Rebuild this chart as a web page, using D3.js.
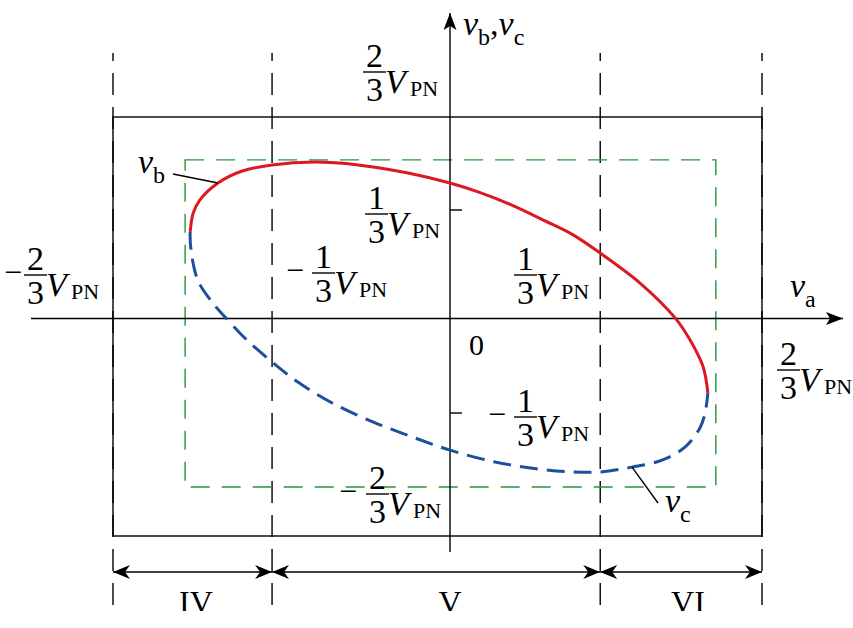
<!DOCTYPE html>
<html lang="en">
<head>
<meta charset="utf-8">
<title>va - vb,vc trajectory</title>
<script src="https://cdn.jsdelivr.net/npm/d3@7"></script>
<style>
  body { margin: 0; background: #fff; }
  svg { display: block; }
  .ln { stroke: #000; stroke-width: 1.4; fill: none; }
  .dash { stroke: #000; stroke-width: 1.4; stroke-dasharray: 22 12; stroke-dashoffset: 14; }
  .green { stroke: #24963a; stroke-width: 1.4; fill: none; stroke-dasharray: 19 12; }
  .vb { stroke: #dc1820; stroke-width: 3; fill: none; }
  .vc { stroke: #1c4f9c; stroke-width: 3; fill: none; stroke-dasharray: 18 9; }
</style>
</head>
<body>
<script>

// all values in units of V_PN
// upper half of the trajectory (vb against va), read left to right
var vaB = [-0.514, -0.508, -0.495, -0.459, -0.411, -0.352, -0.267, -0.182, -0.083, 0, 0.060,
           0.132, 0.203, 0.263, 0.321, 0.406, 0.481, 0.513, 0.541, 0.551];
var vb  = [0.266, 0.324, 0.369, 0.430, 0.473, 0.495, 0.505, 0.495, 0.466, 0.430, 0.398,
           0.351, 0.300, 0.257, 0.201, 0.109, 0.002, -0.076, -0.171, -0.263];

// lower half (vc against va)
var vaC = [-0.514, -0.513, -0.499, -0.471, -0.447, -0.400, -0.352, -0.301, -0.233, -0.148, -0.069,
           0, 0.096, 0.188, 0.261, 0.321, 0.389, 0.453, 0.502, 0.534, 0.545, 0.551];
var vc  = [0.266, 0.220, 0.118, 0.051, 0.008, -0.079, -0.153, -0.224, -0.298, -0.360, -0.401,
           -0.434, -0.466, -0.485, -0.493, -0.493, -0.480, -0.461, -0.426, -0.374, -0.333, -0.263];

var outerLimit = 2/3;
var tickVals = [1/3, -1/3];
var greenVa = [-0.524, 0.568];
var greenV = [-0.534, 0.513];
var sectorEdges = [-2/3, -0.352, 0.321, 2/3];
var sectorNames = ["IV", "V", "VI"];

var w = 853;
var h = 628;
var serif = "'Liberation Serif'";

// the drawing is not to scale, so the scales are piecewise
var x = d3.scaleLinear().domain([-2/3, 0, 2/3]).range([113, 450, 762]);
var y = d3.scaleLinear().domain([-2/3, -1/3, 0, 1/3, 2/3]).range([536, 413, 318.5, 210, 117]);

var svg = d3.select("body").append("svg")
  .attr("width", w)
  .attr("height", h);

var defs = svg.append("defs");
defs.append("clipPath").attr("id", "cut")
  .append("rect").attr("x", 0).attr("y", 0).attr("width", w).attr("height", 611);

function arrowMarker(id, len, half, notch) {
  defs.append("marker")
    .attr("id", id)
    .attr("viewBox", "0 " + (-half) + " " + len + " " + (2 * half))
    .attr("refX", len).attr("refY", 0)
    .attr("markerWidth", len).attr("markerHeight", 2 * half)
    .attr("markerUnits", "userSpaceOnUse")
    .attr("orient", "auto-start-reverse")
    .append("path")
    .attr("d", "M" + len + ",0L0," + (-half) + "L" + notch + ",0L0," + half + "Z")
    .attr("fill", "#000");
}
arrowMarker("axisHead", 17, 6.5, 4);
arrowMarker("spanHead", 17, 7, 5);

var g = svg.append("g").attr("clip-path", "url(#cut)");

function txt(parent, px, py, size) {
  return parent.append("text")
    .attr("x", px).attr("y", py)
    .attr("font-family", serif)
    .attr("font-size", size);
}

// sector boundaries
g.selectAll(".dash").data(sectorEdges).enter().append("line")
  .attr("class", "dash")
  .attr("x1", function(d){ return x(d); })
  .attr("x2", function(d){ return x(d); })
  .attr("y1", 53).attr("y2", 611);

// outer box +-2/3 VPN
g.append("rect").attr("class", "ln")
  .attr("x", x(-outerLimit)).attr("y", y(outerLimit))
  .attr("width", x(outerLimit) - x(-outerLimit))
  .attr("height", y(-outerLimit) - y(outerLimit));

// green dashed box
g.append("rect").attr("class", "green")
  .attr("x", x(greenVa[0])).attr("y", y(greenV[1]))
  .attr("width", x(greenVa[1]) - x(greenVa[0]))
  .attr("height", y(greenV[0]) - y(greenV[1]));

// axes
g.append("line").attr("class", "ln")
  .attr("x1", 31).attr("x2", 843).attr("y1", y(0)).attr("y2", y(0))
  .attr("marker-end", "url(#axisHead)");
g.append("line").attr("class", "ln")
  .attr("x1", x(0)).attr("x2", x(0)).attr("y1", 552).attr("y2", 13)
  .attr("marker-end", "url(#axisHead)");

g.selectAll(".tick").data(tickVals).enter().append("line")
  .attr("class", "ln tick")
  .attr("x1", x(0)).attr("x2", x(0) + 12)
  .attr("y1", function(d){ return y(d); })
  .attr("y2", function(d){ return y(d); });

// trajectory
var line = d3.line()
  .x(function(d){ return x(d[0]); })
  .y(function(d){ return y(d[1]); })
  .curve(d3.curveCatmullRom.alpha(0.5));

g.append("path").datum(d3.zip(vaC, vc)).attr("class", "vc").attr("d", line);
g.append("path").datum(d3.zip(vaB, vb)).attr("class", "vb").attr("d", line);

// pointers to the curves
g.append("line").attr("class", "ln").attr("stroke-width", 1.2)
  .attr("x1", 173).attr("y1", 174)
  .attr("x2", x(vaB[3])).attr("y2", y(vb[3]));
g.append("line").attr("class", "ln").attr("stroke-width", 1.2)
  .attr("x1", 658).attr("y1", 503)
  .attr("x2", x(vaC[16])).attr("y2", y(vc[16]));

// sector spans
var spanY = 572;
for (var i = 0; i < sectorNames.length; i++) {
  g.append("line").attr("class", "ln")
    .attr("x1", x(sectorEdges[i])).attr("x2", x(sectorEdges[i + 1]))
    .attr("y1", spanY).attr("y2", spanY)
    .attr("marker-start", "url(#spanHead)")
    .attr("marker-end", "url(#spanHead)");
}
var sectorLabelX = [196, 450, 688];
sectorNames.forEach(function(d, i) {
  txt(g, sectorLabelX[i], 613, 32).attr("text-anchor", "middle").text(d);
});

// fraction labels  (bx, by = left end and height of the fraction bar)
var valueLabels = [
  {sign: "",  num: "2", bx: 363, by: 72},
  {sign: "−", num: "2", bx: 24,  by: 275, mx: 22},
  {sign: "",  num: "1", bx: 365, by: 214},
  {sign: "−", num: "1", bx: 312, by: 273, mx: 304},
  {sign: "",  num: "1", bx: 514, by: 275},
  {sign: "−", num: "1", bx: 514, by: 417, mx: 506},
  {sign: "−", num: "2", bx: 366, by: 494, mx: 357},
  {sign: "",  num: "2", bx: 777, by: 370}
];

valueLabels.forEach(function(d) {
  var lg = g.append("g");
  if (d.sign) {
    txt(lg, d.mx, d.by + 8, 32).attr("text-anchor", "end").text(d.sign);
  }
  txt(lg, d.bx + 11.5, d.by - 5, 34).attr("text-anchor", "middle").text(d.num);
  lg.append("line").attr("class", "ln").attr("stroke-width", 1.5)
    .attr("x1", d.bx).attr("x2", d.bx + 23).attr("y1", d.by).attr("y2", d.by);
  txt(lg, d.bx + 11.5, d.by + 29, 34).attr("text-anchor", "middle").text("3");
  txt(lg, d.bx + 22, d.by + 21, 34).attr("font-style", "italic").text("V");
  txt(lg, d.bx + 47, d.by + 24, 22).text("PN");
});

// zero
txt(g, 469, 355, 30).text("0");

// symbol labels: v with subscript
function symbol(px, py, parts) {
  var t = txt(g, px, py, 34);
  var low = false;
  parts.forEach(function(p) {
    var s = t.append("tspan").text(p.t);
    if (p.sub) {
      s.attr("font-size", 24).attr("dy", low ? 0 : 10);
      low = true;
    } else {
      s.attr("font-size", 34).attr("dy", low ? -10 : 0);
      if (p.it) s.attr("font-style", "italic");
      low = false;
    }
  });
}
symbol(790, 297, [{t: "v", it: true}, {t: "a", sub: true}]);
symbol(463, 35, [{t: "v", it: true}, {t: "b", sub: true}, {t: ","}, {t: "v", it: true}, {t: "c", sub: true}]);
symbol(138, 173, [{t: "v", it: true}, {t: "b", sub: true}]);
symbol(665, 512, [{t: "v", it: true}, {t: "c", sub: true}]);

</script>
</body>
</html>
